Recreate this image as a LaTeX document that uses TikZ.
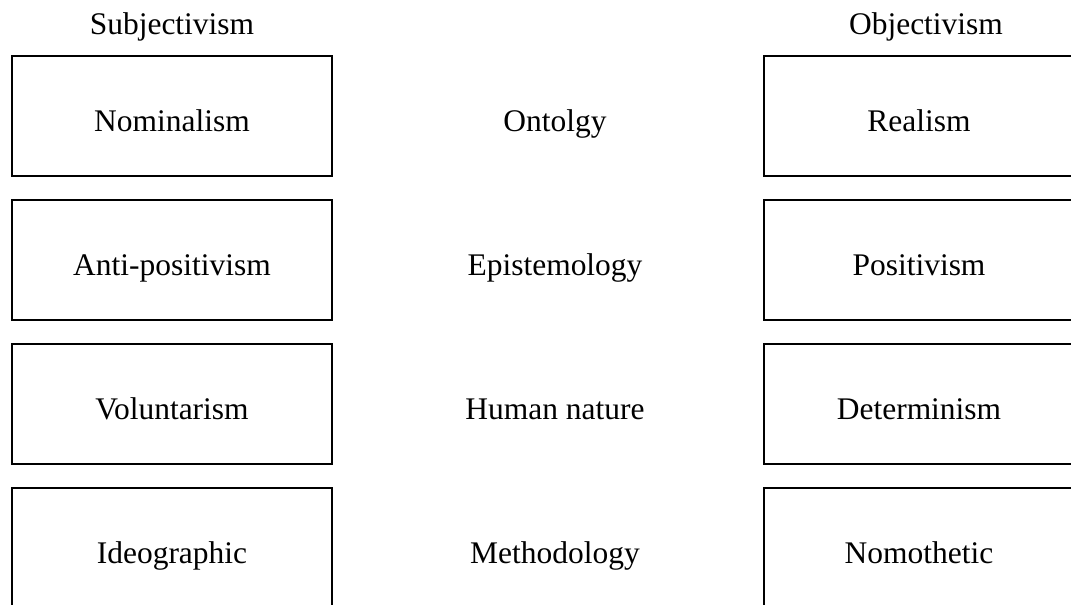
\documentclass[tikz,border=0pt]{standalone}
\usepackage{fontspec}
\setmainfont{Liberation Serif}
\usetikzlibrary{positioning}
\begin{document}
\begin{tikzpicture}[x=0.75pt,y=-0.75pt,
		BoxStyle/.style={draw, line width=1.5pt, minimum width=#1, minimum height=90pt, inner sep=0pt, outer sep=0pt, text height=23.6pt, text depth=0pt},
		BoxStyle/.default=240pt,
		LabelStyle/.style={inner sep=0pt, text height=23.6pt, text depth=0pt},
		node distance=18pt and 0pt, font=\fontsize{23.6}{28}\selectfont]
		\useasboundingbox (0,0) rectangle (1071,605);
		% left column
		\node[BoxStyle] (nom) at (172,116) {Nominalism};
		\node[BoxStyle, below=of nom] (anti) {Anti-positivism};
		\node[BoxStyle, below=of anti] (vol) {Voluntarism};
		\node[BoxStyle, below=of vol] (ideo) {Ideographic};
		% right column
		\node[BoxStyle=232.5pt] (real) at (919,116) {Realism};
		\node[BoxStyle=232.5pt, below=of real] (posi) {Positivism};
		\node[BoxStyle=232.5pt, below=of posi] (det) {Determinism};
		\node[BoxStyle=232.5pt, below=of det] (nomo) {Nomothetic};
		% middle column
		\node[LabelStyle] (onto) at (555,116) {Ontolgy};
		\node[LabelStyle] (epis) at (onto |- anti) {Epistemology};
		\node[LabelStyle] (hum) at (onto |- vol) {Human nature};
		\node[LabelStyle] (meth) at (onto |- ideo) {Methodology};
		% headings
		\node[LabelStyle] (subj) at (172,19) {Subjectivism};
		\node[LabelStyle] (obj) at (926,19) {Objectivism};
	\end{tikzpicture}
\end{document}
